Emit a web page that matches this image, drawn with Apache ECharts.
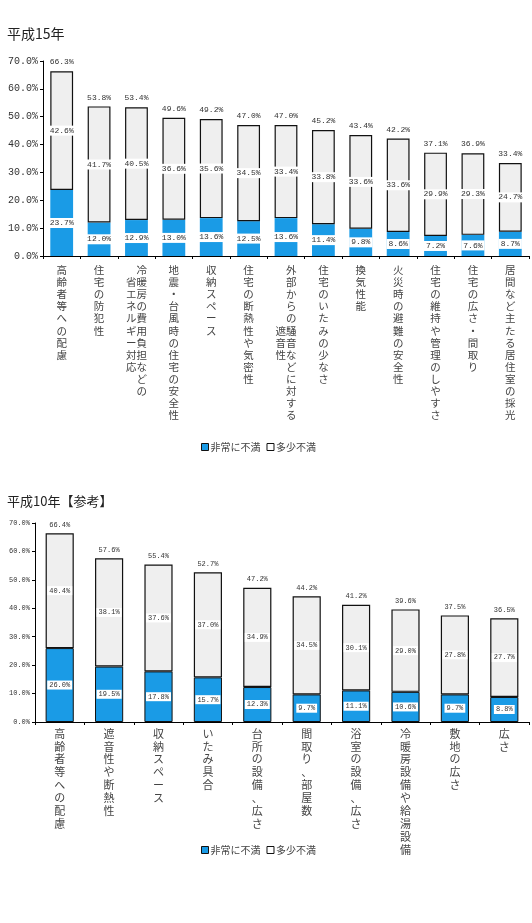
<!DOCTYPE html>
<html>
<head>
<meta charset="utf-8">
<script src="https://cdn.jsdelivr.net/npm/echarts@6/dist/echarts.min.js"></script>
<style>
html,body{margin:0;padding:0;background:#fff;}
#chart{width:532px;height:923px;}
</style>
</head>
<body>
<div id="chart"></div>
<script>
// ---- data ----
const title15 = '平成15年';
const title10 = '平成10年【参考】';
const seriesNames = ['非常に不満', '多少不満'];

const cats15 = ['高齢者等への配慮', '住宅の防犯性', '冷暖房の費用負担などの\n省エネルギー対応', '地震・台風時の住宅の安全性', '収納スペース', '住宅の断熱性や気密性', '外部からの騒音などに対する\n遮音性', '住宅のいたみの少なさ', '換気性能', '火災時の避難の安全性', '住宅の維持や管理のしやすさ', '住宅の広さ・間取り', '居間など主たる居住室の採光'];
const severe15 = [23.7, 12.0, 12.9, 13.0, 13.6, 12.5, 13.6, 11.4, 9.8, 8.6, 7.2, 7.6, 8.7];
const some15 = [42.6, 41.7, 40.5, 36.6, 35.6, 34.5, 33.4, 33.8, 33.6, 33.6, 29.9, 29.3, 24.7];
const total15 = [66.3, 53.8, 53.4, 49.6, 49.2, 47.0, 47.0, 45.2, 43.4, 42.2, 37.1, 36.9, 33.4];

const cats10 = ['高齢者等への配慮', '遮音性や断熱性', '収納スペース', 'いたみ具合', '台所の設備、広さ', '間取り、部屋数', '浴室の設備、広さ', '冷暖房設備や給湯設備', '敷地の広さ', '広さ'];
const severe10 = [26.0, 19.5, 17.8, 15.7, 12.3, 9.7, 11.1, 10.6, 9.7, 8.8];
const some10 = [40.4, 38.1, 37.6, 37.0, 34.9, 34.5, 30.1, 29.0, 27.8, 27.7];
const total10 = [66.4, 57.6, 55.4, 52.7, 47.2, 44.2, 41.2, 39.6, 37.5, 36.5];

const yMin = 0, yMax = 70, yInterval = 10;

// ---- helpers ----
const CJK = '"Noto Sans CJK JP", sans-serif';
const NUM = '"Liberation Mono", monospace';
const BLUE = '#1a9be6';
const GRAY = '#efefef';

function vertical(name) {
  const cols = name.split('\n').map(s => Array.from(s));
  if (cols.length === 1) return cols[0].join('\n');
  const right = cols[0], left = cols[1];
  const off = Math.floor((right.length - left.length) / 2);
  const rows = [];
  const n = Math.max(right.length, left.length + off);
  for (let i = 0; i < n; i++) {
    const l = left[i - off] || '\u3000';
    const r = right[i] || '\u3000';
    rows.push(l + r);
  }
  return rows.join('\n');
}
const pct = v => v.toFixed(1) + '%';

function yAxis(idx, fs) {
  return {
    type: 'value', gridIndex: idx, min: yMin, max: yMax, interval: yInterval,
    splitLine: { show: false },
    axisLine: { show: true, lineStyle: { color: '#000', width: 1 } },
    axisTick: { show: true, length: 3, lineStyle: { color: '#000' } },
    axisLabel: { formatter: v => v.toFixed(1) + '%', fontSize: fs, fontFamily: NUM, color: '#333', margin: 5 }
  };
}
function xAxis(idx, cats, fs, lh, margin) {
  return {
    type: 'category', gridIndex: idx, data: cats,
    axisLine: { lineStyle: { color: '#000', width: 1 } },
    axisTick: { show: true, length: 3, inside: false, lineStyle: { color: '#000' } },
    axisLabel: {
      interval: 0, formatter: vertical, fontSize: fs, lineHeight: lh,
      fontFamily: CJK, color: '#444', margin: margin, verticalAlign: 'top', align: 'center'
    }
  };
}
const boxLabel = (fs) => ({
  show: true, position: 'inside', fontSize: fs, fontFamily: NUM, color: '#333',
  backgroundColor: '#fff', padding: [1, 2], formatter: p => pct(p.value)
});

function seriesFor(idx, severe, some, total, bw, blueBorder) {
  const stack = 's' + idx;
  return [
    {
      name: seriesNames[0], type: 'bar', stack, xAxisIndex: idx, yAxisIndex: idx,
      data: severe, barWidth: bw,
      itemStyle: { color: BLUE, borderColor: blueBorder ? '#111' : BLUE, borderWidth: blueBorder ? 1 : 0 },
      label: boxLabel(idx === 0 ? 8 : 7)
    },
    {
      name: seriesNames[1], type: 'bar', stack, xAxisIndex: idx, yAxisIndex: idx,
      data: some, barWidth: bw,
      itemStyle: { color: GRAY, borderColor: '#111', borderWidth: 1.2 },
      label: boxLabel(idx === 0 ? 8 : 7)
    },
    {
      name: 'total', type: 'bar', stack, xAxisIndex: idx, yAxisIndex: idx,
      data: total.map(() => 0), barWidth: bw, silent: true,
      itemStyle: { color: 'transparent', borderWidth: 0 },
      label: {
        show: true, position: 'top', distance: 5, fontSize: idx === 0 ? 8 : 7, fontFamily: NUM, color: '#333',
        formatter: p => pct(total[p.dataIndex])
      }
    }
  ];
}

function legendAt(top) {
  return {
    top: top, left: 196, orient: 'horizontal', itemWidth: 7, itemHeight: 7, itemGap: 6,
    icon: 'rect', textStyle: { fontSize: 10, fontFamily: CJK, color: '#444', padding: [0, 0, 0, -3] },
    data: [
      { name: seriesNames[0], itemStyle: { color: BLUE, borderColor: '#111', borderWidth: 1 } },
      { name: seriesNames[1], itemStyle: { color: '#fff', borderColor: '#111', borderWidth: 1 } }
    ]
  };
}

const chart = echarts.init(document.getElementById('chart'), null, { renderer: 'canvas' });
chart.setOption({
  backgroundColor: '#fff',
  animation: false,
  title: [
    { text: title15, left: 2, top: 22, textStyle: { fontSize: 14, fontWeight: 'normal', fontFamily: CJK, color: '#222' } },
    { text: title10, left: 2, top: 490, textStyle: { fontSize: 13, fontWeight: 'normal', fontFamily: CJK, color: '#222' } }
  ],
  legend: [legendAt(437), legendAt(840)],
  grid: [
    { left: 43, right: 3, top: 61, height: 195, containLabel: false },
    { left: 35, right: 3, top: 523, height: 199, containLabel: false }
  ],
  xAxis: [xAxis(0, cats15, 10.5, 12.1, 8), xAxis(1, cats10, 11, 12.9, 5)],
  yAxis: [yAxis(0, 10), yAxis(1, 7)],
  series: [
    ...seriesFor(0, severe15, some15, total15, '61%', false),
    ...seriesFor(1, severe10, some10, total10, '57%', true)
  ]
});
</script>
</body>
</html>
